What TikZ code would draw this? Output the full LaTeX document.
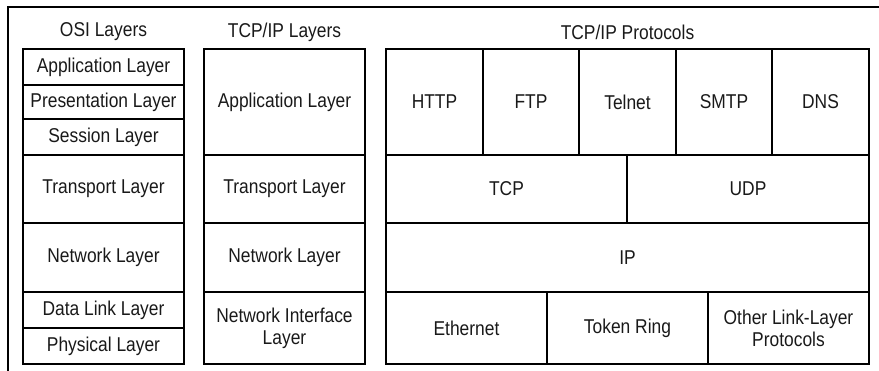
\documentclass[tikz,border=0pt]{standalone}
\usepackage{fontspec}
\setmainfont{Liberation Sans}[FakeStretch=0.87]
\begin{document}
\begin{tikzpicture}[x=1pt,y=-1pt,
  cell/.style={draw, line width=1.2pt, inner sep=0pt, align=center,
    font=\fontsize{20}{22}\selectfont, text=black!90},
  head/.style={inner sep=0pt, font=\fontsize{20}{22}\selectfont, text=black!90}]
\useasboundingbox (0,0) rectangle (879,371);
% outer frame (top and left)
\coordinate (fbl) at (8,371);
\coordinate (ftl) at (8,7);
\coordinate (ftr) at (879,7);
\draw[line width=1.2pt] (fbl) -- (ftl) -- (ftr);
% headers
\node[head] (h1) at (103.5,32) {OSI Layers};
\node[head] (h2) at (284.5,32) {TCP/IP Layers};
\node[head] (h3) at (627.5,32) {TCP/IP Protocols};
% OSI column
\node[cell, minimum width=161pt, minimum height=36pt] (a1) at (103.5,67) {Application Layer};
\node[cell, minimum width=161pt, minimum height=34pt] (a2) at (103.5,102) {Presentation Layer};
\node[cell, minimum width=161pt, minimum height=36pt] (a3) at (103.5,137) {Session Layer};
\node[cell, minimum width=161pt, minimum height=68pt] (a4) at (103.5,189) {Transport Layer};
\node[cell, minimum width=161pt, minimum height=69pt] (a5) at (103.5,257.5) {Network Layer};
\node[cell, minimum width=161pt, minimum height=36pt] (a6) at (103.5,310) {Data Link Layer};
\node[cell, minimum width=161pt, minimum height=36pt] (a7) at (103.5,346) {Physical Layer};
% TCP/IP layers column
\node[cell, minimum width=161pt, minimum height=106pt] (b1) at (284.5,102) {Application Layer};
\node[cell, minimum width=161pt, minimum height=68pt] (b2) at (284.5,189) {Transport Layer};
\node[cell, minimum width=161pt, minimum height=69pt] (b3) at (284.5,257.5) {Network Layer};
\node[cell, minimum width=161pt, minimum height=72pt] (b4) at (284.5,328) {Network Interface\\Layer};
% protocols
\node[cell, minimum width=97pt, minimum height=106pt] (p1) at (434.5,102) {HTTP};
\node[cell, minimum width=96pt, minimum height=106pt] (p2) at (531,102) {FTP};
\node[cell, minimum width=97pt, minimum height=106pt] (p3) at (627.5,102) {Telnet};
\node[cell, minimum width=96pt, minimum height=106pt] (p4) at (724,102) {SMTP};
\node[cell, minimum width=97pt, minimum height=106pt] (p5) at (820.5,102) {DNS};
\node[cell, minimum width=241pt, minimum height=68pt] (tcp) at (506.5,189) {TCP};
\node[cell, minimum width=242pt, minimum height=68pt] (udp) at (748,189) {UDP};
\node[cell, minimum width=483pt, minimum height=69pt] (ip) at (627.5,257.5) {IP};
\node[cell, minimum width=161pt, minimum height=72pt] (e1) at (466.5,328) {Ethernet};
\node[cell, minimum width=161pt, minimum height=72pt] (e2) at (627.5,328) {Token Ring};
\node[cell, minimum width=161pt, minimum height=72pt] (e3) at (788.5,328) {Other Link-Layer\\Protocols};
\end{tikzpicture}
\end{document}
